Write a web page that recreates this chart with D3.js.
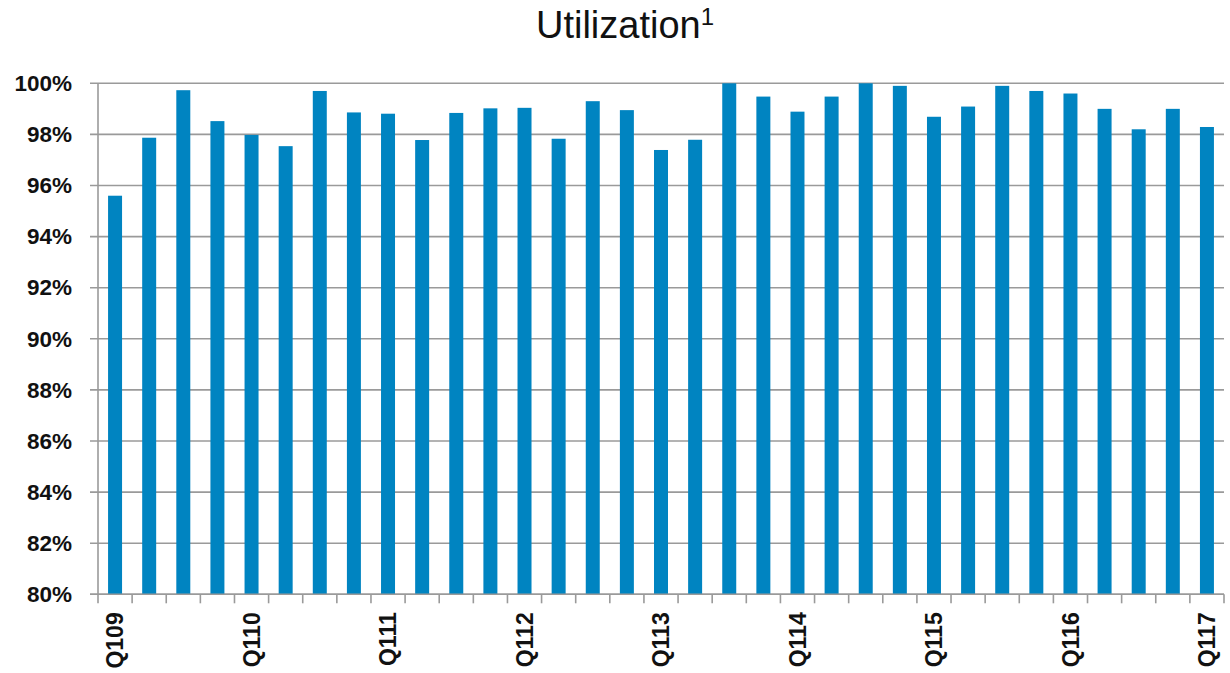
<!DOCTYPE html>
<meta charset="utf-8">
<script src="https://d3js.org/d3.v7.min.js"></script>
<style>
  body { margin: 0; background: #fff; }
  svg text { font-family: "Liberation Sans", Arial, sans-serif; }
</style>
<div id="chart"></div>
<script>

    // quarters, Q109 .. Q117
    const quarters = ["Q109","Q209","Q309","Q409",
                      "Q110","Q210","Q310","Q410",
                      "Q111","Q211","Q311","Q411",
                      "Q112","Q212","Q312","Q412",
                      "Q113","Q213","Q313","Q413",
                      "Q114","Q214","Q314","Q414",
                      "Q115","Q215","Q315","Q415",
                      "Q116","Q216","Q316","Q416",
                      "Q117"];

    // utilization in percent
    const utilization = [95.6, 97.87, 99.73, 98.52,
                         97.98, 97.54, 99.7, 98.86,
                         98.81, 97.78, 98.84, 99.02,
                         99.04, 97.83, 99.3, 98.95,
                         97.39, 97.79, 100.0, 99.48,
                         98.89, 99.48, 100.0, 99.9,
                         98.69, 99.09, 99.9, 99.7,
                         99.6, 99.0, 98.2, 99.0,
                         98.29];

    const yTicks = [80, 82, 84, 86, 88, 90, 92, 94, 96, 98, 100];
    const xLabels = ["Q109","Q110","Q111","Q112","Q113","Q114","Q115","Q116","Q117"];

    const data = quarters.map((q, i) => ({q: q, v: utilization[i]}));

    const W = 1230, H = 673;
    const margin = {top: 83.3, right: 6, bottom: 78.7, left: 98};
    const width = W - margin.left - margin.right,
          height = H - margin.top - margin.bottom;

    const svg = d3.select("#chart")
        .append("svg")
        .attr("width", W)
        .attr("height", H);

    // title
    const title = svg.append("text")
        .attr("x", 625)
        .attr("y", 38)
        .attr("text-anchor", "middle")
        .style("font-size", "38px")
        .style("fill", "#111");
    title.append("tspan").text("Utilization");
    title.append("tspan")
        .attr("dy", -13)
        .style("font-size", "24px")
        .text("1");

    const g = svg.append("g")
        .attr("transform", `translate(${margin.left}, ${margin.top})`);

    const x = d3.scaleBand()
        .domain(quarters)
        .range([0, width])
        .paddingInner(0.59)
        .paddingOuter(0.295);

    const y = d3.scaleLinear()
        .domain([80, 100])
        .range([height, 0]);

    // gridlines
    g.append("g")
        .selectAll("line")
        .data(yTicks)
        .join("line")
        .attr("x1", -8)
        .attr("x2", width)
        .attr("y1", d => y(d))
        .attr("y2", d => y(d))
        .attr("stroke", "#9a9a9a")
        .attr("stroke-width", 1.6);

    // Y axis labels
    const yAxis = g.append("g")
        .call(d3.axisLeft(y).tickValues(yTicks).tickSize(0).tickPadding(26)
            .tickFormat(d => d + "%"));
    yAxis.select(".domain").remove();
    yAxis.selectAll("text")
        .style("font-size", "22.5px")
        .style("font-weight", "bold")
        .style("fill", "#111");

    // bars
    g.append("g")
        .selectAll("rect")
        .data(data)
        .join("rect")
        .attr("x", d => x(d.q))
        .attr("y", d => y(d.v))
        .attr("width", x.bandwidth())
        .attr("height", d => height - y(d.v))
        .attr("fill", "#0084c1");

    // axis lines
    g.append("line")
        .attr("x1", 0).attr("x2", 0)
        .attr("y1", 0).attr("y2", height)
        .attr("stroke", "#9a9a9a")
        .attr("stroke-width", 1.6);
    g.append("line")
        .attr("x1", -8).attr("x2", width)
        .attr("y1", height).attr("y2", height)
        .attr("stroke", "#9a9a9a")
        .attr("stroke-width", 1.6);

    // boundary ticks between categories
    g.append("g")
        .selectAll("line")
        .data(d3.range(quarters.length + 1))
        .join("line")
        .attr("x1", i => i * x.step())
        .attr("x2", i => i * x.step())
        .attr("y1", height)
        .attr("y2", height + 9)
        .attr("stroke", "#9a9a9a")
        .attr("stroke-width", 1.6);

    // X axis labels
    const xAxis = g.append("g")
        .attr("transform", `translate(0, ${height})`)
        .call(d3.axisBottom(x).tickValues(xLabels).tickSize(0));
    xAxis.select(".domain").remove();
    xAxis.selectAll("text")
        .attr("transform", "rotate(-90)")
        .attr("x", -18)
        .attr("y", 0)
        .attr("dy", "0.35em")
        .attr("text-anchor", "end")
        .style("font-size", "23px")
        .style("font-weight", "bold")
        .style("fill", "#111");

</script>
